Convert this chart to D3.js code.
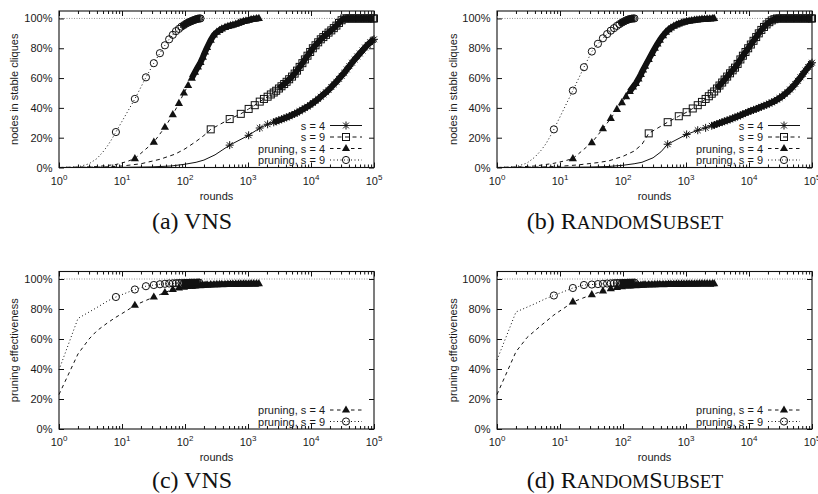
<!DOCTYPE html>
<html>
<head>
<meta charset="utf-8">
<script src="https://cdnjs.cloudflare.com/ajax/libs/d3/7.8.5/d3.min.js"></script>
<style>
  html, body { margin: 0; padding: 0; background: #fff; }
  svg { display: block; }
  .lbl { font-family: "Liberation Sans", Arial, Helvetica, sans-serif; font-size: 11px; fill: #1a1a1a; }
  .cap { font-family: "Liberation Serif", "Times New Roman", serif; fill: #111; }
</style>
</head>
<body>
<svg id="fig" width="818" height="494"></svg>
<script>
// ---- axis ticks ----
const xTickValues = [1, 10, 100, 1000, 10000, 100000];
const xTickExponents = ["0", "1", "2", "3", "4", "5"];
const yTickValues = [0, 20, 40, 60, 80, 100];
const yTickLabels = ["0%", "20%", "40%", "60%", "80%", "100%"];

// ---- rounds at which the marked samples were taken ----
const rounds512 = [512, 1024, 1536, 2048, 2560];
const rounds256 = [256, 512, 768, 1024, 1280, 1536, 1792, 2048, 2304, 2560];
const roundsLate = [2800, 3100, 3400, 3750, 4100, 4500, 5000, 5500, 6000, 6600, 7300, 8000, 8800, 9700,
  10700, 11800, 13000, 14300, 15700, 17300, 19000, 21000, 23000, 25300, 27800, 30600, 33700, 37000,
  40700, 44800, 49300, 54200, 59600, 65600, 72100, 79300, 87200, 95900, 100000];
const rounds16 = [16, 32, 48, 64, 80, 96, 112, 128, 144, 160, 176, 192, 208, 224, 256, 288, 320, 352, 384,
  432, 480, 528, 576, 640, 704, 768, 848, 928, 1024, 1120, 1232, 1360, 1488, 1632, 1792, 1968, 2160,
  2384, 2624, 2800];
const rounds8 = [8, 16, 24, 32, 40, 48, 56, 64, 72, 80, 88, 96, 104, 112, 120, 128, 136, 144, 152, 160, 168, 176];

// ---- (a) VNS: nodes in stable cliques (%) ----
const vnsS4LeadRounds = [1, 10, 30, 60, 100, 150, 200, 300, 400];
const vnsS4LeadValues = [0, 0.1, 0.4, 1, 2.2, 3.5, 5, 8.5, 12];
const vnsS4Values = [15, 21.6, 26.5, 29, 30.3,
  31, 31.7, 32.3, 33, 33.6, 34.3, 35.2, 36, 36.8, 37.8, 38.8, 39.8, 40.8, 42, 43.3, 44.6, 46, 47.5, 49,
  50.5, 52, 54, 55.8, 57.5, 59.5, 61.5, 63.5, 65.8, 68, 70.3, 72.5, 74.5, 76.5, 78.5, 80.5, 82.3, 84, 85.5, 86];

const vnsS9LeadRounds = [1, 5, 10, 20, 40, 70, 100, 150, 200];
const vnsS9LeadValues = [0, 0.3, 1, 2.5, 5.5, 9, 12.5, 17.5, 21.5];
const vnsS9Values = [25.6, 32.5, 36, 39.3, 41.8, 44.2, 46, 47.5, 49, 50.3,
  51.5, 53, 54.5, 56, 57.5, 59.2, 61, 63, 65, 67.5, 70, 72.5, 75, 77.5, 80, 82, 84, 86, 87.5, 89, 90.5,
  92, 93.5, 95.2, 97, 98.8, 100, 100, 100, 100, 100, 100, 100, 100, 100, 100, 100, 100, 100];

const vnsP4LeadRounds = [1, 2, 4, 8, 12];
const vnsP4LeadValues = [0, 0.2, 0.6, 2, 4];
const vnsP4Values = [6, 17, 27, 35.5, 43, 50, 55, 60, 64, 67.5, 70.5, 74, 77.5, 80.5, 85.5, 89, 90.8, 92,
  93, 94, 94.7, 95.2, 95.6, 96.2, 96.8, 97.4, 98, 98.4, 98.9, 99.3, 99.6, 99.9, 100];

const vnsP9LeadRounds = [1, 2, 3, 4, 5, 6, 7];
const vnsP9LeadValues = [0, 0.4, 2.5, 6, 10.5, 15, 19.5];
const vnsP9Values = [23.8, 46, 60.5, 70, 76.7, 82, 86, 89, 91.5, 93, 94.5, 95.5, 96.5, 97.2, 97.8, 98.3,
  98.8, 99.2, 99.5, 99.8, 100, 100];

// ---- (b) RandomSubset: nodes in stable cliques (%) ----
const rsS4LeadRounds = [1, 10, 30, 60, 100, 150, 200, 300, 400];
const rsS4LeadValues = [0, 0.1, 0.3, 0.7, 1.5, 2.5, 3.5, 6.5, 10.5];
const rsS4Values = [15.6, 22.2, 25, 26.6, 28,
  28.5, 29.2, 29.8, 30.4, 31, 31.6, 32.3, 33, 33.6, 34.3, 35, 35.8, 36.5, 37.3, 38, 38.6, 39.3, 40, 40.7,
  41.4, 42.1, 42.9, 43.7, 44.5, 45.5, 46.6, 47.8, 49.2, 50.7, 52.3, 54.1, 56.1, 58.2, 60.5, 62.8, 65.1,
  67.4, 69.5, 70.3];

const rsS9LeadRounds = [1, 5, 10, 20, 40, 60, 100, 150, 200];
const rsS9LeadValues = [0, 0.3, 0.8, 1.8, 3.3, 4.5, 7.5, 11, 15.5];
const rsS9Values = [22.9, 30.4, 34.4, 37.1, 39.6, 41.8, 44, 46, 47.8, 49.5,
  51, 53, 55, 57, 59, 61, 63.2, 65.2, 67, 69.5, 72.5, 75, 77.5, 80, 82.5, 85, 87.5, 90, 92.3, 94.3, 96,
  97.5, 98.7, 99.5, 100, 100, 100, 100, 100, 100, 100, 100, 100, 100, 100, 100, 100, 100, 100];

const rsP4LeadRounds = [1, 2, 4, 8, 12];
const rsP4LeadValues = [0, 0.3, 1, 2.8, 4.5];
const rsP4Values = [6, 16.7, 26, 33, 39, 43.5, 47.5, 51, 54, 56.5, 59.5, 62.5, 65.5, 68, 72.5, 76.5, 80,
  83, 85.5, 88.5, 90.8, 92.5, 93.7, 94.8, 95.7, 96.4, 97, 97.5, 98, 98.3, 98.6, 98.9, 99.1, 99.3, 99.5,
  99.6, 99.7, 99.8, 99.9, 100];

const rsP9LeadRounds = [1, 2, 3, 4, 5, 6, 7];
const rsP9LeadValues = [0, 0.5, 3, 7, 11.5, 16, 21];
const rsP9Values = [25.6, 51.6, 67.3, 77.8, 83, 86.7, 89.5, 91.8, 93.5, 95, 96.2, 97.2, 98, 98.7, 99.2,
  99.6, 99.8, 100, 100];

// ---- (c) VNS: pruning effectiveness (%) ----
const vnsEffP4LeadRounds = [1, 2, 3, 4, 6, 8, 12];
const vnsEffP4LeadValues = [23, 50, 60, 65.5, 71, 74.5, 79];
const vnsEffP4Values = [82.5, 88, 91, 93, 94, 94.6, 95, 95.3, 95.5, 95.7, 95.8, 95.9, 96, 96.1, 96.2,
  96.3, 96.4, 96.4, 96.5, 96.5, 96.6, 96.6, 96.7, 96.7, 96.7, 96.8, 96.8, 96.8, 96.8, 96.9, 96.9, 96.9, 96.9];

const vnsEffP9LeadRounds = [1, 2, 4, 6];
const vnsEffP9LeadValues = [39.4, 73.7, 81, 85.5];
const vnsEffP9Values = [88, 93, 95.2, 96, 96.5, 96.8, 97, 97.1, 97.2, 97.3, 97.3, 97.4, 97.4, 97.4,
  97.5, 97.5, 97.5, 97.5, 97.5, 97.6, 97.6];

// ---- (d) RandomSubset: pruning effectiveness (%) ----
const rsEffP4LeadRounds = [1, 2, 3, 5, 8, 12];
const rsEffP4LeadValues = [23, 51.5, 61, 69, 76, 81];
const rsEffP4Values = [84.7, 89.6, 92, 93.6, 94.4, 94.9, 95.2, 95.5, 95.7, 95.8, 95.9, 96, 96.1, 96.2,
  96.3, 96.3, 96.4, 96.4, 96.5, 96.5, 96.5, 96.6, 96.6, 96.6, 96.7, 96.7, 96.7, 96.7, 96.8, 96.8, 96.8,
  96.8, 96.8, 96.9, 96.9, 96.9, 96.9, 96.9, 96.9, 96.9];

const rsEffP9LeadRounds = [1, 2, 4, 6];
const rsEffP9LeadValues = [46, 78, 83.5, 87];
const rsEffP9Values = [89, 94, 96, 96.3, 96.6, 96.8, 97, 97.1, 97.2, 97.3, 97.3, 97.4, 97.4, 97.4, 97.5,
  97.5, 97.5, 97.5, 97.6];

// ---- series styles ----
// bandFrom: from this round on the markers sit so close together that they merge into a solid band
const seriesNames = { s4: "s = 4", s9: "s = 9", p4: "pruning, s = 4", p9: "pruning, s = 9" };
const styles = {
  s4: { dash: null, marker: "asterisk", bandFrom: 2800 },
  s9: { dash: "4,3.5", marker: "square", bandFrom: 3400 },
  p4: { dash: "3.5,3.5", marker: "triangle", bandFrom: 144 },
  p9: { dash: "1,2.5", marker: "circle", bandFrom: 96 }
};

function makeSeries(key, leadRounds, leadValues, rounds, values) {
  const lead = leadRounds.map((r, i) => ({ r, v: leadValues[i] }));
  const marked = values.map((v, i) => ({ r: rounds[i], v }));
  return { key, lead, marked };
}

const capSize = 24;
const smallCaps = 0.8;
const panels = [
  {
    left: 59, right: 374, top: 11, bottom: 167.5, yLabelX: 14, yLabel: "nodes in stable cliques",
    capX: 192, capY: 229, caption: [["(a) ", 1], ["VNS", 1]],
    series: [
      makeSeries("s4", vnsS4LeadRounds, vnsS4LeadValues, rounds512.concat(roundsLate), vnsS4Values),
      makeSeries("s9", vnsS9LeadRounds, vnsS9LeadValues, rounds256.concat(roundsLate), vnsS9Values),
      makeSeries("p4", vnsP4LeadRounds, vnsP4LeadValues, rounds16, vnsP4Values),
      makeSeries("p9", vnsP9LeadRounds, vnsP9LeadValues, rounds8, vnsP9Values)
    ]
  },
  {
    left: 497, right: 812, top: 11, bottom: 167.5, yLabelX: 453, yLabel: "nodes in stable cliques",
    capX: 625, capY: 229, caption: [["(b) ", 1], ["R", 1], ["ANDOM", smallCaps], ["S", 1], ["UBSET", smallCaps]],
    series: [
      makeSeries("s4", rsS4LeadRounds, rsS4LeadValues, rounds512.concat(roundsLate), rsS4Values),
      makeSeries("s9", rsS9LeadRounds, rsS9LeadValues, rounds256.concat(roundsLate), rsS9Values),
      makeSeries("p4", rsP4LeadRounds, rsP4LeadValues, rounds16, rsP4Values),
      makeSeries("p9", rsP9LeadRounds, rsP9LeadValues, rounds8, rsP9Values)
    ]
  },
  {
    left: 59, right: 374, top: 271.5, bottom: 429, yLabelX: 14, yLabel: "pruning effectiveness",
    capX: 192, capY: 488, caption: [["(c) ", 1], ["VNS", 1]],
    series: [
      makeSeries("p4", vnsEffP4LeadRounds, vnsEffP4LeadValues, rounds16, vnsEffP4Values),
      makeSeries("p9", vnsEffP9LeadRounds, vnsEffP9LeadValues, rounds8, vnsEffP9Values)
    ]
  },
  {
    left: 497, right: 812, top: 271.5, bottom: 429, yLabelX: 453, yLabel: "pruning effectiveness",
    capX: 625, capY: 488, caption: [["(d) ", 1], ["R", 1], ["ANDOM", smallCaps], ["S", 1], ["UBSET", smallCaps]],
    series: [
      makeSeries("p4", rsEffP4LeadRounds, rsEffP4LeadValues, rounds16, rsEffP4Values),
      makeSeries("p9", rsEffP9LeadRounds, rsEffP9LeadValues, rounds8, rsEffP9Values)
    ]
  }
];

const ink = "#111";
const svg = d3.select("#fig");

function drawMarker(sel, kind) {
  if (kind === "asterisk") {
    sel.append("path").attr("d", "M-4,0H4M0,-4V4M-2.9,-2.9L2.9,2.9M-2.9,2.9L2.9,-2.9")
      .attr("stroke", ink).attr("stroke-width", 1).attr("fill", "none");
  } else if (kind === "square") {
    sel.append("rect").attr("x", -3.5).attr("y", -3.5).attr("width", 7).attr("height", 7)
      .attr("stroke", ink).attr("stroke-width", 1).attr("fill", "none");
  } else if (kind === "triangle") {
    sel.append("path").attr("d", "M0,-4.6L4.1,2.6L-4.1,2.6Z").attr("fill", ink);
  } else {
    sel.append("circle").attr("r", 3.6).attr("stroke", ink).attr("stroke-width", 1).attr("fill", "none");
  }
}

function drawPanel(p) {
  const g = svg.append("g");
  const x = d3.scaleLog().domain([1, 1e5]).range([p.left, p.right]);
  const y = d3.scaleLinear().domain([0, 105]).range([p.bottom, p.top]);

  // 100% reference line
  g.append("line").attr("x1", p.left).attr("x2", p.right)
    .attr("y1", y(100)).attr("y2", y(100))
    .attr("stroke", "#777").attr("stroke-width", 0.8).attr("stroke-dasharray", "1,1.5");

  // minor log ticks between decades
  const minor = [];
  for (let e = 0; e < 5; e++) for (let m = 2; m <= 9; m++) minor.push(m * Math.pow(10, e));

  const axes = [
    [d3.axisBottom(x).tickValues(xTickValues).tickSize(-5), `translate(0,${p.bottom})`],
    [d3.axisBottom(x).tickValues(minor).tickSize(-3), `translate(0,${p.bottom})`],
    [d3.axisTop(x).tickValues(xTickValues).tickSize(-5), `translate(0,${p.top})`],
    [d3.axisTop(x).tickValues(minor).tickSize(-3), `translate(0,${p.top})`],
    [d3.axisLeft(y).tickValues(yTickValues).tickSize(-5), `translate(${p.left},0)`],
    [d3.axisRight(y).tickValues(yTickValues).tickSize(-5), `translate(${p.right},0)`]
  ];
  axes.forEach(([ax, tr]) => {
    const a = g.append("g").attr("transform", tr).call(ax.tickFormat(""));
    a.select(".domain").remove();
    a.selectAll(".tick line").attr("stroke", ink).attr("stroke-width", 1);
  });

  // frame
  g.append("rect").attr("x", p.left).attr("y", p.top)
    .attr("width", p.right - p.left).attr("height", p.bottom - p.top)
    .attr("fill", "none").attr("stroke", ink).attr("stroke-width", 1.1);

  // y tick labels
  g.selectAll(".ylab").data(yTickValues).enter().append("text").attr("class", "lbl")
    .attr("x", p.left - 6.5).attr("y", d => y(d) + 4).attr("text-anchor", "end")
    .text((d, i) => yTickLabels[i]);

  // x tick labels 10^k
  xTickValues.forEach((d, i) => {
    const t = g.append("text").attr("class", "lbl").attr("x", x(d)).attr("y", p.bottom + 17)
      .attr("text-anchor", "middle");
    t.append("tspan").text("10");
    t.append("tspan").attr("dy", -5).attr("font-size", "8px").text(xTickExponents[i]);
  });

  // axis titles
  g.append("text").attr("class", "lbl").attr("x", (p.left + p.right) / 2).attr("y", p.bottom + 32)
    .attr("text-anchor", "middle").text("rounds");
  g.append("text").attr("class", "lbl")
    .attr("transform", `translate(${p.yLabelX + 4},${(p.top + p.bottom) / 2}) rotate(-90)`)
    .attr("text-anchor", "middle").text(p.yLabel);

  // curves
  const line = d3.line().x(d => x(d.r)).y(d => y(d.v));
  p.series.forEach(s => {
    const st = styles[s.key];
    g.append("path").datum(s.lead.concat(s.marked)).attr("d", line)
      .attr("fill", "none").attr("stroke", ink).attr("stroke-width", 1)
      .attr("stroke-dasharray", st.dash);
    // merged band of closely packed markers
    const first = s.marked.findIndex(d => d.r >= st.bandFrom);
    if (first >= 0) {
      const band = s.marked.slice(Math.max(0, first - 1));
      g.append("path").datum(band).attr("d", line)
        .attr("fill", "none").attr("stroke", ink).attr("stroke-width", 6)
        .attr("stroke-linejoin", "round");
    }
    const m = g.append("g");
    s.marked.forEach(d => {
      drawMarker(m.append("g").attr("transform", `translate(${x(d.r)},${y(d.v)})`), st.marker);
    });
  });

  // key
  const n = p.series.length;
  p.series.forEach((s, i) => {
    const st = styles[s.key];
    const ry = p.bottom - 7.5 - (n - 1 - i) * 11.5;
    g.append("text").attr("class", "lbl").attr("x", p.right - 49).attr("y", ry + 4)
      .attr("text-anchor", "end").text(seriesNames[s.key]);
    g.append("line").attr("x1", p.right - 44).attr("x2", p.right - 12).attr("y1", ry).attr("y2", ry)
      .attr("stroke", ink).attr("stroke-width", 1).attr("stroke-dasharray", st.dash);
    drawMarker(g.append("g").attr("transform", `translate(${p.right - 28},${ry})`), st.marker);
  });

  // caption
  const c = g.append("text").attr("class", "cap").attr("x", p.capX).attr("y", p.capY)
    .attr("text-anchor", "middle");
  p.caption.forEach(([txt, scale]) => {
    c.append("tspan").attr("font-size", (capSize * scale) + "px").text(txt);
  });
}

panels.forEach(drawPanel);
</script>
</body>
</html>
